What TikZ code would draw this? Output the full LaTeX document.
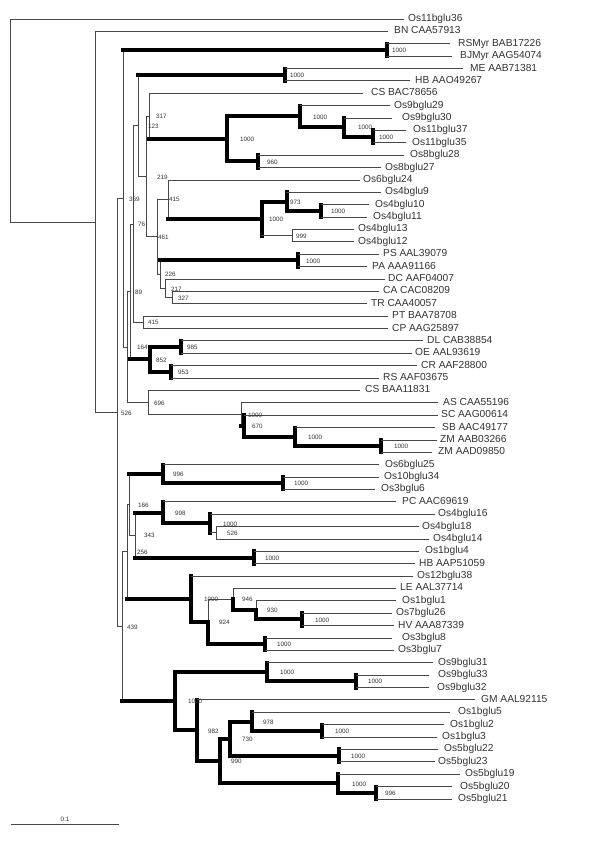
\documentclass[tikz,border=0pt]{standalone}
\usepackage{fontspec}
\setmainfont{Liberation Sans}
\newcommand\tedge[4]{\draw[#1] (#3) -- (#3 |- #4); \draw[#2] (#3 |- #4) -- (#4);}
\newcommand\tleaf[5]{\coordinate (e#1) at (#2,#4); \node[leaf] (lab#1) at (#3,#4) {#5};}
\newcommand\tboot[4]{\node[bs] (bs#1) at (#2,#3) {#4};}
\tikzset{
  tn/.style={line width=0.85pt, draw=black!72, line cap=rect},
  tk/.style={line width=4pt, draw=black, line cap=rect},
  leaf/.style={anchor=west, inner sep=0pt, font=\fontsize{10.2}{12}\selectfont, text=black!80, text height=7pt, text depth=2pt},
  bs/.style={anchor=west, inner sep=0pt, font=\fontsize{6.3}{7}\selectfont, text=black!80},
}
\begin{document}
\begin{tikzpicture}[x=1pt,y=-1pt]
\fill[white] (0,0) rectangle (600,855);
\useasboundingbox (0,0) rectangle (600,855);
% internal nodes
\coordinate (root) at (10,120.47);
\coordinate (A) at (95,221.94);
\coordinate (n526) at (117,412.5);
\coordinate (n369) at (123,198.5);
\coordinate (myr) at (386.5,49.95);
\coordinate (n164) at (127,347.05);
\coordinate (n89) at (130,291.70);
\coordinate (n76) at (133,223.95);
\coordinate (n123) at (138,125.59);
\coordinate (mehb) at (285,74.71);
\coordinate (n219) at (146,176.46);
\coordinate (n317) at (149,116.10);
\coordinate (ntt) at (227,138.93);
\coordinate (n300) at (300,116.49);
\coordinate (n344) at (344,127.33);
\coordinate (n373) at (373,136.61);
\coordinate (n960) at (258,161.37);
\coordinate (n461) at (157,236.82);
\coordinate (n415) at (168,199.29);
\coordinate (q) at (261.5,218.63);
\coordinate (n973) at (286.5,201.61);
\coordinate (nb) at (321,210.89);
\coordinate (n999) at (292,235.65);
\coordinate (n226) at (160,274.34);
\coordinate (pspa) at (298,260.41);
\coordinate (n217) at (165,288.27);
\coordinate (n327) at (172,297.55);
\coordinate (n415b) at (143,322.31);
\coordinate (n852) at (150,359.45);
\coordinate (n985) at (181,347.07);
\coordinate (n953) at (171,371.83);
\coordinate (n696) at (148,402.40);
\coordinate (nx) at (241,414.39);
\coordinate (ny) at (244,426.00);
\coordinate (nz) at (295,436.83);
\coordinate (zm) at (381,446.11);
\coordinate (n439) at (122,626.50);
\coordinate (n256) at (127,551.74);
\coordinate (n166) at (129,504.54);
\coordinate (n996) at (163,473.97);
\coordinate (n283) at (283,483.25);
\coordinate (n343) at (135,535.10);
\coordinate (n998) at (163,512.66);
\coordinate (nc) at (210,523.49);
\coordinate (n526b) at (216,532.77);
\coordinate (nd) at (254,557.53);
\coordinate (nf) at (191,598.93);
\coordinate (n924) at (208,621.76);
\coordinate (n946) at (233,599.32);
\coordinate (n930) at (256,610.15);
\coordinate (n302) at (302,619.43);
\coordinate (ne) at (265,644.19);
\coordinate (ni) at (175,701.26);
\coordinate (ng) at (267,672.05);
\coordinate (n356) at (356,681.33);
\coordinate (n982) at (197,730.47);
\coordinate (n990) at (220,761.03);
\coordinate (n730) at (230,738.59);
\coordinate (n978) at (252,721.57);
\coordinate (n322) at (322,730.85);
\coordinate (n339) at (339,755.61);
\coordinate (nh) at (338,783.47);
\coordinate (n376) at (376,792.75);
% leaves
\tleaf{1}{404}{408}{19.00}{Os11bglu36}
\tleaf{2}{388}{394}{31.38}{BN CAA57913}
\tleaf{3}{450}{458}{43.76}{RSMyr BAB17226}
\tleaf{4}{452}{460}{56.14}{BJMyr AAG54074}
\tleaf{5}{463}{470}{68.52}{ME AAB71381}
\tleaf{6}{410}{415}{80.90}{HB AAO49267}
\tleaf{7}{363}{371}{93.28}{CS BAC78656}
\tleaf{8}{390}{394}{105.66}{Os9bglu29}
\tleaf{9}{392}{402}{118.04}{Os9bglu30}
\tleaf{10}{406}{413}{130.42}{Os11bglu37}
\tleaf{11}{406}{412}{142.80}{Os11bglu35}
\tleaf{12}{404}{410}{155.18}{Os8bglu28}
\tleaf{13}{381}{385}{167.56}{Os8bglu27}
\tleaf{14}{360}{363}{179.94}{Os6bglu24}
\tleaf{15}{381}{385}{192.32}{Os4bglu9}
\tleaf{16}{369}{375}{204.70}{Os4bglu10}
\tleaf{17}{367}{373}{217.08}{Os4bglu11}
\tleaf{18}{354}{358}{229.46}{Os4bglu13}
\tleaf{19}{354}{358}{241.84}{Os4bglu12}
\tleaf{20}{379}{383}{254.22}{PS AAL39079}
\tleaf{21}{367}{372}{266.60}{PA AAA91166}
\tleaf{22}{385}{388}{278.98}{DC AAF04007}
\tleaf{23}{379}{383}{291.36}{CA CAC08209}
\tleaf{24}{367}{371}{303.74}{TR CAA40057}
\tleaf{25}{388}{392}{316.12}{PT BAA78708}
\tleaf{26}{388}{392}{328.50}{CP AAG25897}
\tleaf{27}{423}{427}{340.88}{DL CAB38854}
\tleaf{28}{412}{415}{353.26}{OE AAL93619}
\tleaf{29}{417}{421}{365.64}{CR AAF28800}
\tleaf{30}{379}{383}{378.02}{RS AAF03675}
\tleaf{31}{360}{365}{390.40}{CS BAA11831}
\tleaf{32}{438}{443}{402.78}{AS CAA55196}
\tleaf{33}{438}{441}{415.16}{SC AAG00614}
\tleaf{34}{435}{442}{427.54}{SB AAC49177}
\tleaf{35}{437}{440}{439.92}{ZM AAB03266}
\tleaf{36}{432}{438}{452.30}{ZM AAD09850}
\tleaf{37}{379}{385}{464.68}{Os6bglu25}
\tleaf{38}{379}{384}{477.06}{Os10bglu34}
\tleaf{39}{375}{381}{489.44}{Os3bglu6}
\tleaf{40}{396}{402}{501.82}{PC AAC69619}
\tleaf{41}{435}{438}{514.20}{Os4bglu16}
\tleaf{42}{419}{422}{526.58}{Os4bglu18}
\tleaf{43}{429}{433}{538.96}{Os4bglu14}
\tleaf{44}{419}{425}{551.34}{Os1bglu4}
\tleaf{45}{415}{419}{563.72}{HB AAP51059}
\tleaf{46}{413}{417}{576.10}{Os12bglu38}
\tleaf{47}{396}{400}{588.48}{LE AAL37714}
\tleaf{48}{396}{402}{600.86}{Os1bglu1}
\tleaf{49}{392}{396}{613.24}{Os7bglu26}
\tleaf{50}{394}{398}{625.62}{HV AAA87339}
\tleaf{51}{392}{402}{638.00}{Os3bglu8}
\tleaf{52}{394}{398}{650.38}{Os3bglu7}
\tleaf{53}{433}{438}{662.76}{Os9bglu31}
\tleaf{54}{429}{438}{675.14}{Os9bglu33}
\tleaf{55}{429}{437}{687.52}{Os9bglu32}
\tleaf{56}{475}{481}{699.90}{GM AAL92115}
\tleaf{57}{450}{458}{712.28}{Os1bglu5}
\tleaf{58}{444}{450}{724.66}{Os1bglu2}
\tleaf{59}{437}{442}{737.04}{Os1bglu3}
\tleaf{60}{438}{444}{749.42}{Os5bglu22}
\tleaf{61}{435}{438}{761.80}{Os5bglu23}
\tleaf{62}{460}{465}{774.18}{Os5bglu19}
\tleaf{63}{452}{460}{786.56}{Os5bglu20}
\tleaf{64}{452}{458}{798.94}{Os5bglu21}
% edges
\tedge{tn}{tn}{root}{e1}
\tedge{tn}{tn}{root}{A}
\tedge{tn}{tn}{A}{e2}
\tedge{tn}{tn}{A}{n526}
\tedge{tn}{tn}{n526}{n369}
\tedge{tn}{tn}{n526}{n439}
\tedge{tn}{tn}{n369}{n164}
\tedge{tn}{tn}{n164}{n89}
\tedge{tn}{tn}{n164}{n696}
\tedge{tn}{tn}{n89}{n76}
\tedge{tn}{tn}{n76}{n123}
\tedge{tn}{tn}{n76}{n415b}
\tedge{tn}{tn}{n123}{n219}
\tedge{tn}{tn}{n219}{n317}
\tedge{tn}{tn}{n219}{n461}
\tedge{tn}{tn}{n317}{e7}
\tedge{tn}{tn}{n461}{n415}
\tedge{tn}{tn}{n461}{n226}
\tedge{tn}{tn}{n415}{e14}
\tedge{tn}{tn}{n999}{e18}
\tedge{tn}{tn}{n999}{e19}
\tedge{tn}{tn}{n226}{n217}
\tedge{tn}{tn}{n217}{e22}
\tedge{tn}{tn}{n217}{n327}
\tedge{tn}{tn}{n327}{e23}
\tedge{tn}{tn}{n327}{e24}
\tedge{tn}{tn}{n415b}{e25}
\tedge{tn}{tn}{n415b}{e26}
\tedge{tn}{tn}{n696}{e31}
\tedge{tn}{tn}{n696}{nx}
\tedge{tn}{tn}{nx}{e32}
\tedge{tn}{tn}{n439}{n256}
\tedge{tn}{tn}{n256}{n166}
\tedge{tn}{tn}{n166}{n343}
\tedge{tn}{tn}{n526b}{e42}
\tedge{tn}{tn}{n526b}{e43}
\tedge{tn}{tn}{n924}{n946}
\tedge{tn}{tn}{n946}{e47}
\tedge{tn}{tn}{n930}{e48}
\tedge{tn}{tk}{n369}{myr}
\tedge{tk}{tn}{myr}{e3}
\tedge{tk}{tn}{myr}{e4}
\tedge{tn}{tk}{n89}{n852}
\tedge{tn}{tk}{n123}{mehb}
\tedge{tk}{tn}{mehb}{e5}
\tedge{tk}{tn}{mehb}{e6}
\tedge{tn}{tk}{n317}{ntt}
\tedge{tk}{tk}{ntt}{n300}
\tedge{tk}{tk}{ntt}{n960}
\tedge{tk}{tn}{n300}{e8}
\tedge{tk}{tk}{n300}{n344}
\tedge{tk}{tn}{n344}{e9}
\tedge{tk}{tk}{n344}{n373}
\tedge{tk}{tn}{n373}{e10}
\tedge{tk}{tn}{n373}{e11}
\tedge{tk}{tn}{n960}{e12}
\tedge{tk}{tn}{n960}{e13}
\tedge{tn}{tk}{n415}{q}
\tedge{tk}{tk}{q}{n973}
\tedge{tk}{tn}{q}{n999}
\tedge{tk}{tn}{n973}{e15}
\tedge{tk}{tk}{n973}{nb}
\tedge{tk}{tn}{nb}{e16}
\tedge{tk}{tn}{nb}{e17}
\tedge{tn}{tk}{n226}{pspa}
\tedge{tk}{tn}{pspa}{e20}
\tedge{tk}{tn}{pspa}{e21}
\tedge{tk}{tk}{n852}{n985}
\tedge{tk}{tk}{n852}{n953}
\tedge{tk}{tn}{n985}{e27}
\tedge{tk}{tn}{n985}{e28}
\tedge{tk}{tn}{n953}{e29}
\tedge{tk}{tn}{n953}{e30}
\tedge{tn}{tk}{nx}{ny}
\tedge{tk}{tn}{ny}{e33}
\tedge{tk}{tk}{ny}{nz}
\tedge{tk}{tn}{nz}{e34}
\tedge{tk}{tk}{nz}{zm}
\tedge{tk}{tn}{zm}{e35}
\tedge{tk}{tn}{zm}{e36}
\tedge{tn}{tk}{n439}{ni}
\tedge{tn}{tk}{n256}{nf}
\tedge{tn}{tk}{n166}{n996}
\tedge{tk}{tn}{n996}{e37}
\tedge{tk}{tk}{n996}{n283}
\tedge{tk}{tn}{n283}{e38}
\tedge{tk}{tn}{n283}{e39}
\tedge{tn}{tk}{n343}{n998}
\tedge{tn}{tk}{n343}{nd}
\tedge{tk}{tn}{n998}{e40}
\tedge{tk}{tk}{n998}{nc}
\tedge{tk}{tn}{nc}{e41}
\tedge{tk}{tn}{nc}{n526b}
\tedge{tk}{tn}{nd}{e44}
\tedge{tk}{tn}{nd}{e45}
\tedge{tk}{tn}{nf}{e46}
\tedge{tk}{tk}{nf}{n924}
\tedge{tk}{tk}{n924}{ne}
\tedge{tk}{tk}{n946}{n930}
\tedge{tk}{tk}{n930}{n302}
\tedge{tk}{tn}{n302}{e49}
\tedge{tk}{tn}{n302}{e50}
\tedge{tk}{tn}{ne}{e51}
\tedge{tk}{tn}{ne}{e52}
\tedge{tk}{tk}{ni}{ng}
\tedge{tk}{tk}{ni}{n982}
\tedge{tk}{tn}{ng}{e53}
\tedge{tk}{tk}{ng}{n356}
\tedge{tk}{tn}{n356}{e54}
\tedge{tk}{tn}{n356}{e55}
\tedge{tk}{tn}{n982}{e56}
\tedge{tk}{tk}{n982}{n990}
\tedge{tk}{tk}{n990}{n730}
\tedge{tk}{tk}{n990}{nh}
\tedge{tk}{tk}{n730}{n978}
\tedge{tk}{tk}{n730}{n339}
\tedge{tk}{tn}{n978}{e57}
\tedge{tk}{tk}{n978}{n322}
\tedge{tk}{tn}{n322}{e58}
\tedge{tk}{tn}{n322}{e59}
\tedge{tk}{tn}{n339}{e60}
\tedge{tk}{tn}{n339}{e61}
\tedge{tk}{tn}{nh}{e62}
\tedge{tk}{tk}{nh}{n376}
\tedge{tk}{tn}{n376}{e63}
\tedge{tk}{tn}{n376}{e64}
% bootstrap values
\tboot{myr}{392}{50.4}{1000}
\tboot{mehb}{290}{75.2}{1000}
\tboot{n317}{156}{116.6}{317}
\tboot{n123}{148}{126.1}{123}
\tboot{n300}{313}{117.0}{1000}
\tboot{n344}{358}{127.8}{1000}
\tboot{n373}{379}{137.1}{1000}
\tboot{ntt}{240}{139.4}{1000}
\tboot{n960}{267}{161.9}{960}
\tboot{n219}{157}{177.0}{219}
\tboot{n369}{129}{199.0}{369}
\tboot{n415}{169}{199.8}{415}
\tboot{n973}{290}{202.1}{973}
\tboot{nb}{331}{211.4}{1000}
\tboot{q}{269}{219.1}{1000}
\tboot{n76}{138}{224.4}{76}
\tboot{n461}{158}{237.3}{461}
\tboot{n999}{296}{236.2}{999}
\tboot{pspa}{306}{260.9}{1000}
\tboot{n226}{165}{274.8}{226}
\tboot{n217}{171}{288.8}{217}
\tboot{n89}{135}{292.2}{89}
\tboot{n327}{178}{298.0}{327}
\tboot{n415b}{148}{322.8}{415}
\tboot{n164}{137}{347.5}{164}
\tboot{n985}{187}{347.6}{985}
\tboot{n852}{156}{360.0}{852}
\tboot{n953}{178}{372.3}{953}
\tboot{n696}{154}{402.9}{696}
\tboot{n526}{121}{413.0}{526}
\tboot{nx}{248}{414.9}{1000}
\tboot{ny}{252}{426.5}{670}
\tboot{nz}{308}{437.3}{1000}
\tboot{zm}{394}{446.6}{1000}
\tboot{n996}{173}{474.5}{996}
\tboot{n283}{294}{483.8}{1000}
\tboot{n166}{138}{505.0}{166}
\tboot{n998}{175}{513.2}{998}
\tboot{nc}{223}{524.0}{1000}
\tboot{n526b}{227}{533.3}{526}
\tboot{n343}{144}{535.6}{343}
\tboot{n256}{137}{552.2}{256}
\tboot{nd}{265}{558.0}{1000}
\tboot{nf}{204}{599.4}{1000}
\tboot{n946}{242}{599.8}{946}
\tboot{n930}{267}{610.7}{930}
\tboot{n302}{315}{619.9}{1000}
\tboot{n924}{219}{622.3}{924}
\tboot{n439}{127}{627.0}{439}
\tboot{ne}{277}{644.7}{1000}
\tboot{ng}{280}{672.6}{1000}
\tboot{n356}{368}{681.8}{1000}
\tboot{ni}{188}{701.8}{1000}
\tboot{n978}{263}{722.1}{978}
\tboot{n982}{208}{731.0}{982}
\tboot{n322}{335}{731.4}{1000}
\tboot{n730}{242}{739.1}{730}
\tboot{n339}{351}{756.1}{1000}
\tboot{n990}{231}{761.5}{990}
\tboot{nh}{352}{784.0}{1000}
\tboot{n376}{385}{793.3}{996}
% scale bar
\coordinate (sbl) at (11.5,824);
\coordinate (sbr) at (118.5,824);
\draw[tn] (sbl) -- (sbr);
\node[bs, anchor=south] (sbt) at (65,821.5) {0.1};
\end{tikzpicture}
\end{document}
